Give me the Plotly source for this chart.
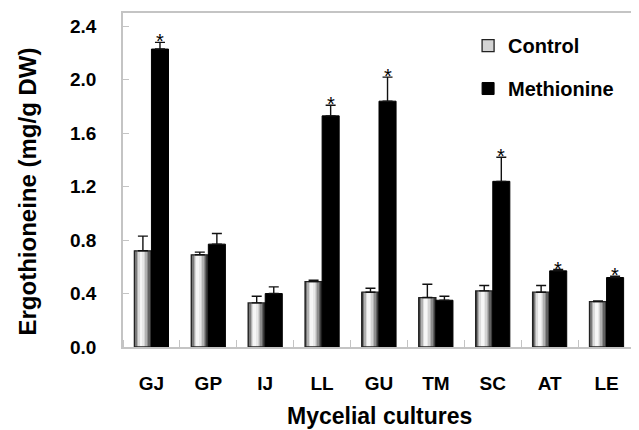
import plotly.graph_objects as go

categories = ["GJ", "GP", "IJ", "LL", "GU", "TM", "SC", "AT", "LE"]
control = [0.72, 0.69, 0.33, 0.49, 0.41, 0.37, 0.42, 0.41, 0.34]
control_err = [0.11, 0.02, 0.05, 0.01, 0.03, 0.10, 0.04, 0.05, 0.005]
methionine = [2.23, 0.77, 0.40, 1.73, 1.84, 0.35, 1.24, 0.57, 0.52]
methionine_err = [0.05, 0.08, 0.05, 0.08, 0.18, 0.03, 0.18, 0.01, 0.01]
significant = [True, False, False, True, True, False, True, True, True]
y_ticks = [0.0, 0.4, 0.8, 1.2, 1.6, 2.0, 2.4]

FONT = "Liberation Sans, Arial, sans-serif"
W = 0.3
xs = list(range(len(categories)))

# horizontal gradient for the control bars (cylinder-like shading)
grad = ["#4a4a4a", "#7a7a7a", "#b0b0b0", "#dcdcdc", "#f5f5f5", "#f6f6f6",
        "#e8e8e8", "#d2d2d2", "#b2b2b2", "#8c8c8c", "#626262", "#3c3c3c"]
N = len(grad)

fig = go.Figure()
for k, c in enumerate(grad):
    fig.add_trace(go.Bar(
        x=xs, y=control, width=W / N, offset=-W + k * W / N,
        marker=dict(color=c, line=dict(width=0)),
        showlegend=False, hoverinfo="skip",
    ))

fig.add_trace(go.Bar(
    x=xs, y=control, width=W, offset=-W, name="Control",
    marker=dict(color="rgba(0,0,0,0)", line=dict(color="#222222", width=1.3)),
    error_y=dict(type="data", array=control_err, arrayminus=[0] * len(control),
                 symmetric=False, color="#111111", thickness=1.4, width=5),
    legendgroup="a", showlegend=False,
))
# legend proxy for Control
fig.add_trace(go.Bar(
    x=[None], y=[None], name="Control", legendgroup="a",
    marker=dict(color="#d4d4d4", line=dict(color="#222222", width=1.3)),
))
fig.add_trace(go.Bar(
    x=xs, y=methionine, width=W, offset=0, name="Methionine",
    marker=dict(color="#000000", line=dict(color="#000000", width=1)),
    error_y=dict(type="data", array=methionine_err, arrayminus=[0] * len(methionine),
                 symmetric=False, color="#111111", thickness=1.4, width=5),
    legendgroup="b",
))

for i, s in enumerate(significant):
    if s:
        fig.add_annotation(
            x=i + W / 2, y=methionine[i] + methionine_err[i], text="*",
            showarrow=False, yanchor="bottom", yshift=-12,
            font=dict(family=FONT, size=20, color="black"),
        )

# axis titles as annotations for precise placement
fig.add_annotation(
    text="Ergothioneine (mg/g DW)", xref="paper", yref="paper",
    x=0, y=0.4656, xshift=-96, xanchor="center", yanchor="middle",
    textangle=-90, showarrow=False,
    font=dict(family=FONT, size=24, color="black", weight="bold"),
)
fig.add_annotation(
    text="Mycelial cultures", xref="paper", yref="paper",
    x=0.5, y=0, yshift=-69, xanchor="center", yanchor="middle",
    showarrow=False,
    font=dict(family=FONT, size=23, color="black", weight="bold"),
)

fig.update_layout(
    width=631, height=422,
    margin=dict(l=114.5, r=2, t=5, b=83),
    paper_bgcolor="white", plot_bgcolor="white",
    barmode="overlay",
    font=dict(family=FONT, color="black"),
    legend=dict(
        x=0.674, y=0.961, xanchor="left", yanchor="top",
        font=dict(family=FONT, size=20, color="black", weight="bold"),
        bgcolor="rgba(0,0,0,0)", traceorder="grouped", tracegroupgap=14,
        itemwidth=30,
    ),
    xaxis=dict(
        range=[-0.5, 8.5], tickvals=xs, ticktext=categories, ticks="",
        showline=True, linecolor="#c4c4c4", linewidth=1.5, mirror=True,
        showgrid=False, zeroline=False,
        tickfont=dict(family=FONT, size=19, weight="bold"),
        ticklabelstandoff=18,
        minor=dict(tick0=0.5, dtick=1, ticks="inside", ticklen=7,
                   tickcolor="#c4c4c4", tickwidth=1.2, showgrid=False),
    ),
    yaxis=dict(
        range=[0, 2.5], tickvals=y_ticks, tickformat=".1f",
        ticks="inside", ticklen=6, tickcolor="#c4c4c4", tickwidth=1.2,
        showline=True, linecolor="#c4c4c4", linewidth=1.5, mirror=True,
        showgrid=False, zeroline=False,
        tickfont=dict(family=FONT, size=19, weight="bold"),
        ticklabelstandoff=21,
    ),
)

fig.write_html("out.html")
